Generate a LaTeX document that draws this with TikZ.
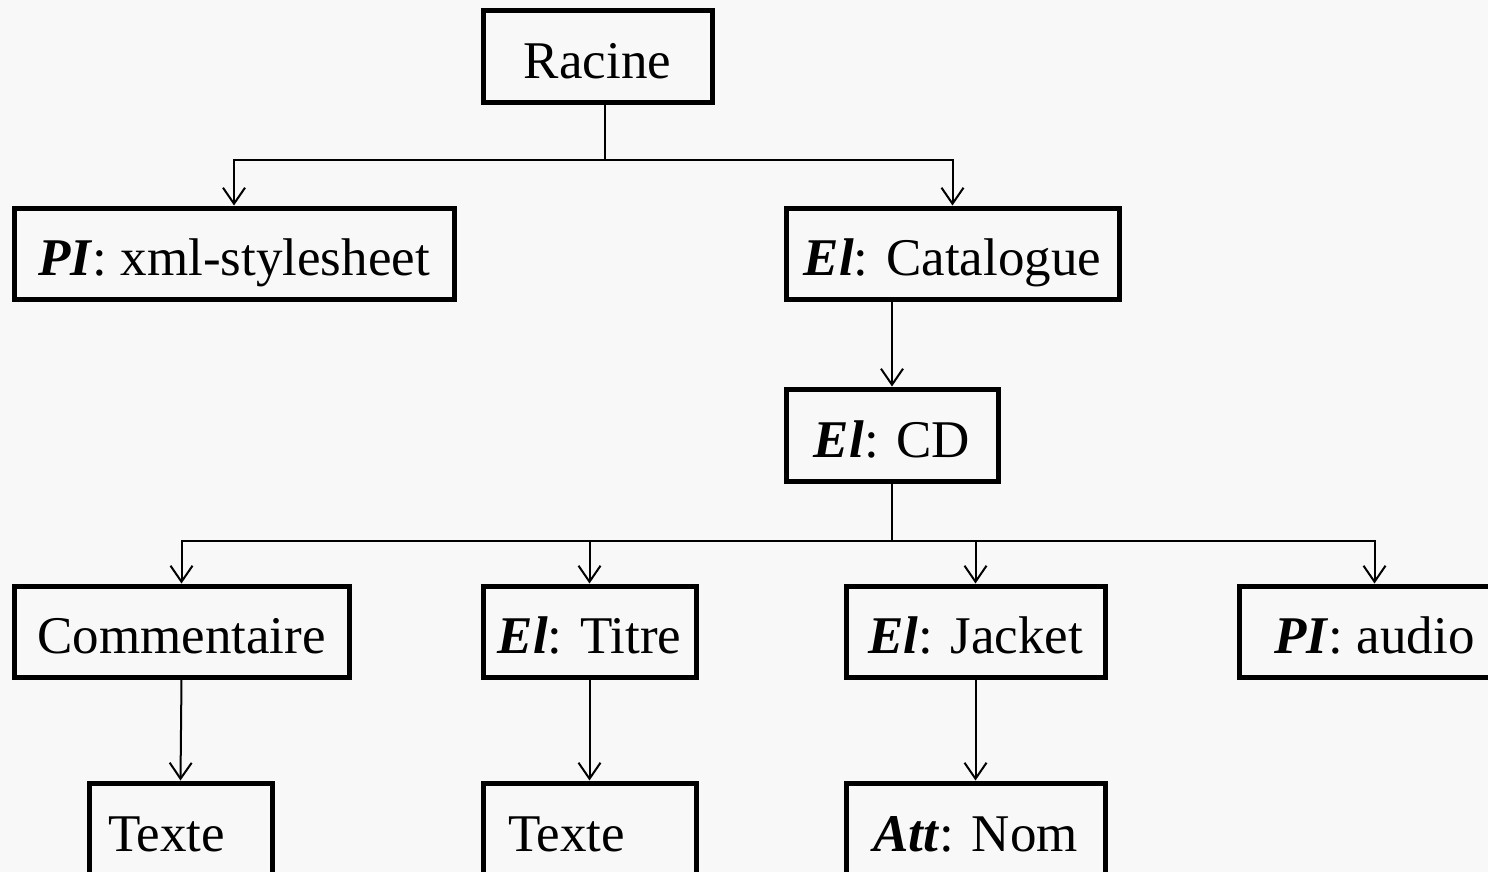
\documentclass[tikz,border=0pt]{standalone}
\usepackage{fontspec}
\setmainfont{Liberation Serif}
\usetikzlibrary{arrows.meta}
\definecolor{bgc}{HTML}{F8F8F8}
\tikzset{
  box/.style={draw=black, line width=5pt, rectangle, inner sep=0pt,
    font=\fontsize{53}{60}\selectfont, text height=44pt, text depth=0pt},
  conn/.style={draw=black, line width=2pt},
  arr/.style={conn, -{Straight Barb[length=16pt,width=22pt,line width=2pt]}}
}
\newcommand{\bi}[1]{\textbf{\textit{#1}}}
\begin{document}
\begin{tikzpicture}[x=1pt,y=-1pt]
\useasboundingbox (0,0) rectangle (1488,872);
\fill[bgc] (0,0) rectangle (1488,872);
\clip (0,0) rectangle (1488,872);
% nodes
\node[box, minimum width=229pt, minimum height=92pt] (racine) at (597.5,57) {Racine};
\node[box, minimum width=440pt, minimum height=91pt] (pixml) at (234,253.5) {\bi{PI}: xml-stylesheet};
\node[box, minimum width=333pt, minimum height=91pt] (cat) at (952.5,253.5) {\bi{El}: Catalogue};
\node[box, minimum width=212pt, minimum height=92pt] (cd) at (892,435) {\bi{El}: CD};
\node[box, minimum width=335pt, minimum height=91pt] (comm) at (181.5,631.5) {Commentaire};
\node[box, minimum width=213pt, minimum height=91pt] (titre) at (589.5,631.5) {\bi{El}: Titre};
\node[box, minimum width=259pt, minimum height=91pt] (jacket) at (975.5,631.5) {\bi{El}: Jacket};
\node[box, minimum width=271pt, minimum height=91pt] (audio) at (1374.5,631.5) {\bi{PI}: audio};
\node[box, minimum height=92pt, inner xsep=19pt, text width=145pt, align=left] (texte1) at (180.5,829) {Texte};
\node[box, minimum height=92pt, inner xsep=25pt, text width=163pt, align=left] (texte2) at (589.5,829) {Texte};
\node[box, minimum width=259pt, minimum height=92pt] (att) at (975.5,829) {\bi{Att}: Nom};
% junctions
\coordinate (j1) at (605,160);
\coordinate (j2) at (892,541);
% connectors
\draw[conn] (racine.south -| j1) -- (j1);
\draw[arr] (j1) -| (pixml.north);
\draw[arr] (j1) -| (cat.north);
\draw[arr] (cat.south -| cd.north) -- (cd.north);
\draw[conn] (cd.south) -- (j2);
\draw[arr] (j2) -| (comm.north);
\draw[arr] (j2) -| (titre.north);
\draw[arr] (j2) -| (jacket.north);
\draw[arr] (j2) -| (audio.north);
\draw[arr] (comm.south) -- (texte1.north);
\draw[arr] (titre.south) -- (texte2.north);
\draw[arr] (jacket.south) -- (att.north);
\end{tikzpicture}
\end{document}
